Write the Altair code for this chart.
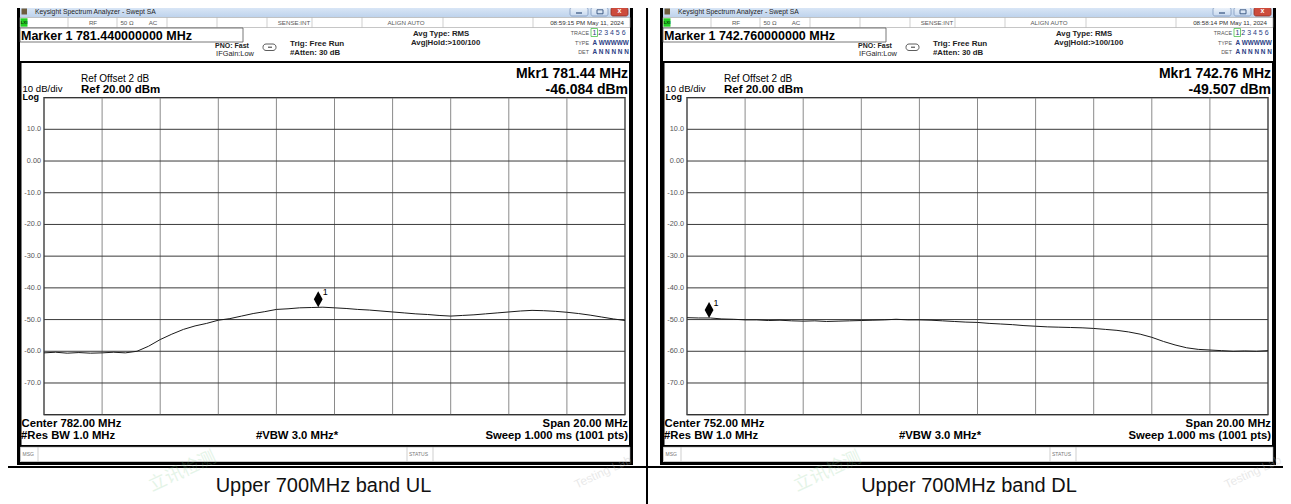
import altair as alt
import pandas as pd

# ---------------- data ----------------
ul_freq = [772.0, 772.4, 772.8, 773.2, 773.6, 774.0, 774.4, 774.8, 775.2, 775.6,
           776.0, 776.4, 776.8, 777.2, 777.6, 778.0, 778.4, 778.8, 779.2, 779.6,
           780.0, 780.4, 780.8, 781.2, 781.6, 782.0, 782.4, 782.8, 783.2, 783.6,
           784.0, 784.4, 784.8, 785.2, 785.6, 786.0, 786.4, 786.8, 787.2, 787.6,
           788.0, 788.4, 788.8, 789.2, 789.6, 790.0, 790.4, 790.8, 791.2, 791.6, 792.0]
ul_db = [-60.5, -60.3, -60.6, -60.4, -60.6, -60.5, -60.3, -60.5, -60.0, -58.4,
         -56.3, -54.6, -53.1, -52.0, -51.2, -50.2, -49.7, -48.9, -48.1, -47.5,
         -46.8, -46.6, -46.3, -46.2, -46.1, -46.3, -46.5, -46.8, -47.0, -47.3,
         -47.6, -47.9, -48.2, -48.4, -48.7, -48.9, -48.7, -48.5, -48.2, -47.9,
         -47.6, -47.3, -47.1, -47.2, -47.4, -47.7, -48.1, -48.6, -49.2, -49.8, -50.3]

dl_freq = [742.0, 742.4, 742.8, 743.2, 743.6, 744.0, 744.4, 744.8, 745.2, 745.6,
           746.0, 746.4, 746.8, 747.2, 747.6, 748.0, 748.4, 748.8, 749.2, 749.6,
           750.0, 750.4, 750.8, 751.2, 751.6, 752.0, 752.4, 752.8, 753.2, 753.6,
           754.0, 754.4, 754.8, 755.2, 755.6, 756.0, 756.4, 756.8, 757.2, 757.6,
           758.0, 758.4, 758.8, 759.2, 759.6, 760.0, 760.4, 760.8, 761.2, 761.6, 762.0]
dl_db = [-49.4, -49.5, -49.5, -49.8, -49.9, -50.1, -50.1, -50.3, -50.2, -50.4,
         -50.5, -50.4, -50.6, -50.5, -50.4, -50.3, -50.2, -50.1, -49.9, -50.1,
         -50.1, -50.2, -50.4, -50.6, -50.8, -50.9, -51.2, -51.4, -51.6, -51.9,
         -52.1, -52.3, -52.4, -52.5, -52.6, -52.8, -53.1, -53.4, -53.9, -54.6,
         -55.6, -56.9, -58.0, -58.9, -59.4, -59.6, -59.8, -60.0, -59.9, -60.0, -59.8]

ul_marker_f = [781.44]
ul_marker_db = [-46.084]
dl_marker_f = [742.76]
dl_marker_db = [-49.507]

ul_vgrid = [772, 774, 776, 778, 780, 782, 784, 786, 788, 790, 792]
dl_vgrid = [742, 744, 746, 748, 750, 752, 754, 756, 758, 760, 762]
hgrid_vals = [20, 10, 0, -10, -20, -30, -40, -50, -60, -70, -80]
ylab_vals = [10, 0, -10, -20, -30, -40, -50, -60, -70]
ylab_text = ["10.0", "0.00", "-10.0", "-20.0", "-30.0", "-40.0", "-50.0", "-60.0", "-70.0"]

# ---------------- helpers ----------------
OX, OY = 8, 8
FONT = "Liberation Sans"
CJK = "Noto Sans CJK SC"
ONE = pd.DataFrame({"k": [0]})
deco = []


def px(x):
    return x - OX


def py(y):
    return y - OY


def rect(x1, y1, x2, y2, fill="white", stroke=None, sw=0, r=0, opacity=1):
    kw = dict(fill=fill, strokeWidth=sw)
    if stroke:
        kw["stroke"] = stroke
    if r:
        kw["cornerRadius"] = r
    if opacity != 1:
        kw["opacity"] = opacity
    deco.append(alt.Chart(ONE).mark_rect(**kw).encode(
        x=alt.value(px(x1)), x2=alt.value(px(x2)),
        y=alt.value(py(y1)), y2=alt.value(py(y2))))


def line(x1, y1, x2, y2, color="black", sw=1):
    deco.append(alt.Chart(ONE).mark_rule(color=color, strokeWidth=sw).encode(
        x=alt.value(px(x1)), x2=alt.value(px(x2)),
        y=alt.value(py(y1)), y2=alt.value(py(y2))))


def text(s, x, y, size, weight="normal", align="left", color="#000",
         font=FONT, angle=0, opacity=1):
    kw = dict(text=s, align=align, baseline="middle", fontSize=size,
              fontWeight=weight, color=color, font=font)
    if angle:
        kw["angle"] = angle
    if opacity != 1:
        kw["opacity"] = opacity
    deco.append(alt.Chart(ONE).mark_text(**kw).encode(
        x=alt.value(px(x)), y=alt.value(py(y))))


title_grad = alt.Gradient(
    gradient="linear",
    stops=[alt.GradientStop(offset=0, color="#e4eefa"),
           alt.GradientStop(offset=1, color="#bdd2ec")],
    x1=0, x2=0, y1=0, y2=1)
btn_grad = alt.Gradient(
    gradient="linear",
    stops=[alt.GradientStop(offset=0, color="#eef4fb"),
           alt.GradientStop(offset=1, color="#c6d8ef")],
    x1=0, x2=0, y1=0, y2=1)

GRID_T, GRID_B = 97.6, 414.7
ys = alt.Scale(domain=[-80, 20], range=[py(GRID_B), py(GRID_T)], nice=False, zero=False)


def panel_deco(o, marker_txt, date, mkr_f, mkr_db, center, span):
    # window frame
    rect(17 + o, 0, 633 + o, 465, fill="black")
    rect(20 + o, 4, 630 + o, 462, fill="white")
    # title bar
    rect(20 + o, 4, 630 + o, 17.5, fill=title_grad)
    rect(21.5 + o, 8.5, 27 + o, 14.5, fill="#6e5d3e")
    text("Keysight Spectrum Analyzer - Swept SA", 35 + o, 11.5, 6.8, color="#1e1e1e")
    rect(570 + o, 7.5, 588 + o, 16, fill=btn_grad, stroke="#7f98bd", sw=0.8, r=2)
    rect(591 + o, 7.5, 608 + o, 16, fill=btn_grad, stroke="#7f98bd", sw=0.8, r=2)
    rect(611 + o, 7.5, 628 + o, 16, fill="#cd4b3c", stroke="#8e2d22", sw=0.8, r=2)
    line(576 + o, 13, 582 + o, 13, color="#33517e", sw=1.2)
    rect(597 + o, 9.8, 603 + o, 13.8, fill="transparent", stroke="#33517e", sw=0.9)
    text("x", 619.5 + o, 11.3, 7, weight="bold", align="center", color="white")
    # status row
    rect(20 + o, 17.5, 630 + o, 27.5, fill="white", stroke="#a0a0a0", sw=0.6)
    for sx in [68, 117, 167, 217, 267, 312, 362, 443, 533]:
        line(sx + o, 17.5, sx + o, 27.5, color="#b0b0b0", sw=0.6)
    rect(20.5 + o, 18.3, 27.5 + o, 26.7, fill="#22d022")
    text("LXI", 24 + o, 22.5, 4.3, weight="bold", align="center", color="#0b3a0b")
    sc = "#5a5a5a"
    text("RF", 93 + o, 22.5, 6.2, align="center", color=sc)
    text("50 \u03a9", 127 + o, 22.5, 6.2, align="center", color=sc)
    text("AC", 153 + o, 22.5, 6.2, align="center", color=sc)
    text("SENSE:INT", 294 + o, 22.5, 6.2, align="center", color=sc)
    text("ALIGN AUTO", 406 + o, 22.5, 6.2, align="center", color=sc)
    text(date, 624 + o, 22.5, 6.2, align="right", color="#333")
    # marker row
    rect(20 + o, 28, 243 + o, 42, fill="white", stroke="#555", sw=0.8)
    text(marker_txt, 21 + o, 35.5, 12.5, weight="bold")
    text("PNO: Fast", 232 + o, 45.5, 7, weight="bold", align="center", color="#222")
    text("IFGain:Low", 235 + o, 53.8, 7.4, align="center", color="#222")
    rect(263 + o, 44, 276 + o, 50.5, fill="white", stroke="#333", sw=0.8, r=3)
    line(268 + o, 47.2, 272 + o, 47.2, color="#333", sw=1)
    text("Trig: Free Run", 290 + o, 43.5, 8, weight="bold", color="#222")
    text("#Atten: 30 dB", 290 + o, 52.5, 7.8, weight="bold", color="#222")
    text("Avg Type: RMS", 413 + o, 33.5, 7.8, weight="bold", color="#222")
    text("Avg|Hold:>100/100", 411 + o, 43.2, 7.8, weight="bold", color="#222")
    text("TRACE", 589 + o, 32.5, 5.4, align="right", color="#555")
    text("TYPE", 589 + o, 43, 5.4, align="right", color="#555")
    text("DET", 589 + o, 51.5, 5.4, align="right", color="#555")
    tc = "#2a3d83"
    text("1 2 3 4 5 6", 592.5 + o, 32.5, 7, color=tc)
    text("A WWWWW", 592.5 + o, 43, 6.4, weight="bold", color=tc)
    text("A N N N N N", 592.5 + o, 51.5, 6.4, weight="bold", color=tc)
    rect(591 + o, 28.5, 597.5 + o, 36.5, fill="transparent", stroke="#4cc24c", sw=0.8)
    # graph box
    rect(20.5 + o, 62, 630 + o, 446, fill="white", stroke="black", sw=2)
    text("Mkr1 " + mkr_f, 628 + o, 73.5, 14, weight="bold", align="right")
    text(mkr_db, 628 + o, 90, 14, weight="bold", align="right")
    text("Ref Offset 2 dB", 81 + o, 78.5, 10)
    text("Ref 20.00 dBm", 81 + o, 89.5, 11.5, weight="bold")
    text("10 dB/div", 22.5 + o, 89.3, 9.6)
    text("Log", 22.5 + o, 97.3, 9, weight="bold")
    text(center, 21.5 + o, 423.5, 11.3, weight="bold")
    text("#Res BW 1.0 MHz", 21 + o, 435.5, 11.3, weight="bold")
    text("#VBW 3.0 MHz*", 297 + o, 435.5, 11.3, weight="bold", align="center")
    text(span, 628 + o, 423.5, 11.3, weight="bold", align="right")
    text("Sweep  1.000 ms (1001 pts)", 628 + o, 435.5, 11.3, weight="bold", align="right")
    # msg row
    rect(20.5 + o, 447, 630 + o, 461.5, fill="white", stroke="#9a9a9a", sw=0.6)
    for sx in [38, 407, 433]:
        line(sx + o, 447, sx + o, 461.5, color="#b0b0b0", sw=0.6)
    text("MSG", 22.5 + o, 454, 5, color="#777")
    text("STATUS", 409 + o, 454, 5, color="#777")
    # grid border
    rect(44 + o, GRID_T, 625 + o, GRID_B, fill="transparent", stroke="#111", sw=1.3)


panel_deco(0, "Marker 1 781.440000000 MHz", "08:59:15 PM May 11, 2024",
           "781.44 MHz", "-46.084 dBm", "Center 782.00 MHz", "Span 20.00 MHz")
panel_deco(643, "Marker 1 742.760000000 MHz", "08:58:14 PM May 11, 2024",
           "742.76 MHz", "-49.507 dBm", "Center 752.00 MHz", "Span 20.00 MHz")

# outer table lines and captions
line(647, 0, 647, 504, color="black", sw=2)
line(0, 467, 1291, 467, color="black", sw=2)
text("\u7acb\u8baf\u68c0\u6d4b", 150, 487, 18, color="#7cc98a", font=CJK, angle=335, opacity=0.2)
text("Testing Lab", 575, 485, 12, color="#b8b8b8", angle=335, opacity=0.3)
text("\u7acb\u8baf\u68c0\u6d4b", 795, 487, 18, color="#7cc98a", font=CJK, angle=335, opacity=0.2)
text("Testing Lab", 1225, 485, 12, color="#b8b8b8", angle=335, opacity=0.3)
text("Upper 700MHz band UL", 323.5, 485.5, 20, align="center", color="#111")
text("Upper 700MHz band DL", 969, 485.5, 20, align="center", color="#111")

DIAMOND = "M0,-2L0.55,-1L0,0L-0.55,-1Z"


def panel_data(o, freqs, dbs, vgrid, mf, mdb, dom):
    xs = alt.Scale(domain=dom, range=[px(44 + o), px(625 + o)], nice=False, zero=False)
    vg = alt.Chart(pd.DataFrame({"f": vgrid})).mark_rule(color="#8a8a8a", strokeWidth=1).encode(
        x=alt.X("f:Q", scale=xs, axis=None),
        y=alt.value(py(GRID_T)), y2=alt.value(py(GRID_B)))
    hg = alt.Chart(pd.DataFrame({"db": hgrid_vals})).mark_rule(color="#3a3a3a", strokeWidth=1).encode(
        y=alt.Y("db:Q", scale=ys, axis=None),
        x=alt.value(px(44 + o)), x2=alt.value(px(625 + o)))
    yl = alt.Chart(pd.DataFrame({"db": ylab_vals, "lab": ylab_text})).mark_text(
        align="right", baseline="middle", fontSize=7.3, color="#555", font=FONT).encode(
        y=alt.Y("db:Q", scale=ys, axis=None), x=alt.value(px(41 + o)), text="lab:N")
    tr = alt.Chart(pd.DataFrame({"f": freqs, "db": dbs})).mark_line(
        color="#1a1a1a", strokeWidth=1).encode(
        x=alt.X("f:Q", scale=xs, axis=None), y=alt.Y("db:Q", scale=ys, axis=None))
    mk_df = pd.DataFrame({"f": mf, "db": mdb})
    mk = alt.Chart(mk_df).mark_point(shape=DIAMOND, filled=True, size=256, color="black",
                                     opacity=1).encode(
        x=alt.X("f:Q", scale=xs, axis=None), y=alt.Y("db:Q", scale=ys, axis=None))
    ml = alt.Chart(mk_df).mark_text(text="1", dx=7, dy=-15, fontSize=9, font=FONT,
                                    color="black").encode(
        x=alt.X("f:Q", scale=xs, axis=None), y=alt.Y("db:Q", scale=ys, axis=None))
    return alt.layer(vg, hg, yl, tr, mk, ml)


left = panel_data(0, ul_freq, ul_db, ul_vgrid, ul_marker_f, ul_marker_db, [772, 792])
right = panel_data(643, dl_freq, dl_db, dl_vgrid, dl_marker_f, dl_marker_db, [742, 762])

chart = alt.layer(*deco, left, right).resolve_scale(x="independent").properties(
    width=1275, height=496,
    autosize=alt.AutoSizeParams(type="none"),
    padding=0,
    background="white",
).configure_view(stroke=None)

chart.save("out.html", embed_options={"renderer": "svg", "actions": False})
